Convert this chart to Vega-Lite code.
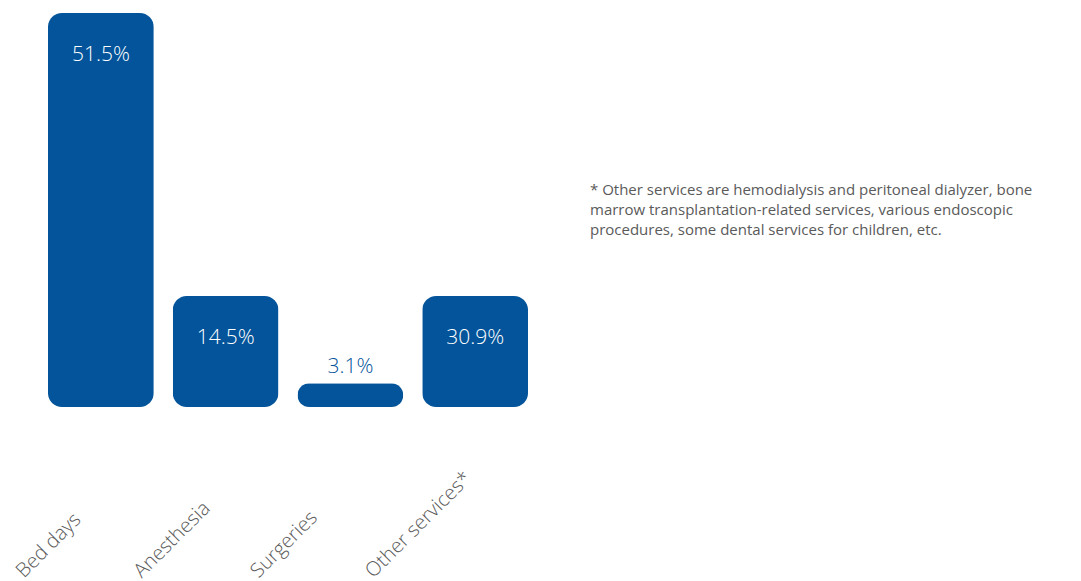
{
  "$schema": "https://vega.github.io/schema/vega-lite/v6.json",
  "background": "white",
  "padding": {"left": 12, "top": 13, "right": 0, "bottom": 0},
  "config": {"view": {"stroke": null}, "font": "Open Sans"},
  "spacing": 52,
  "hconcat": [
    {
      "width": 500,
      "height": 394,
      "data": {"values": [
        {"category": "Bed days", "bar_value": 51.5, "label": "51.5%"},
        {"category": "Anesthesia", "bar_value": 14.5, "label": "14.5%"},
        {"category": "Surgeries", "bar_value": 3.1, "label": "3.1%"},
        {"category": "Other services*", "bar_value": 14.5, "label": "30.9%"}
      ]},
      "encoding": {
        "x": {"field": "category", "type": "nominal", "sort": null,
          "scale": {"paddingInner": 0.152, "paddingOuter": 0.08},
          "axis": {"title": null, "domain": false, "ticks": false, "labelAngle": -45, "labelAlign": "left", "labelBaseline": "middle", "labelFontSize": 20, "labelFontWeight": 300, "labelColor": "#5a5a5a", "labelPadding": 167,
            "labelOffset": {"condition": [
              {"test": "datum.value === 'Anesthesia'", "value": -88},
              {"test": "datum.value === 'Surgeries'", "value": -96},
              {"test": "datum.value === 'Other services*'", "value": -106}
            ], "value": -81},
            "labelFont": "Open Sans"}},
        "y": {"field": "bar_value", "type": "quantitative", "scale": {"domain": [0, 51.5], "nice": false}, "axis": null}
      },
      "layer": [
        {"mark": {"type": "bar", "color": "#03549a", "cornerRadius": 14}},
        {"transform": [{"filter": "datum.bar_value > 5"}],
         "mark": {"type": "text", "color": "white", "fontSize": 21, "fontWeight": 300, "baseline": "middle", "dy": 42},
         "encoding": {"text": {"field": "label"}}},
        {"transform": [{"filter": "datum.bar_value <= 5"}],
         "mark": {"type": "text", "color": "#03549a", "fontSize": 21, "fontWeight": 300, "baseline": "middle", "dy": -16},
         "encoding": {"text": {"field": "label"}}}
      ]
    },
    {
      "width": 490,
      "height": 394,
      "data": {"values": [{"note": "* Other services are hemodialysis and peritoneal dialyzer, bone\nmarrow transplantation-related services, various endoscopic\nprocedures, some dental services for children, etc."}]},
      "mark": {"type": "text", "align": "left", "baseline": "top", "fontSize": 15, "lineHeight": 20, "color": "#5a5a5a", "lineBreak": "\n"},
      "encoding": {
        "text": {"field": "note"},
        "x": {"value": 0},
        "y": {"value": 170}
      }
    }
  ]
}
